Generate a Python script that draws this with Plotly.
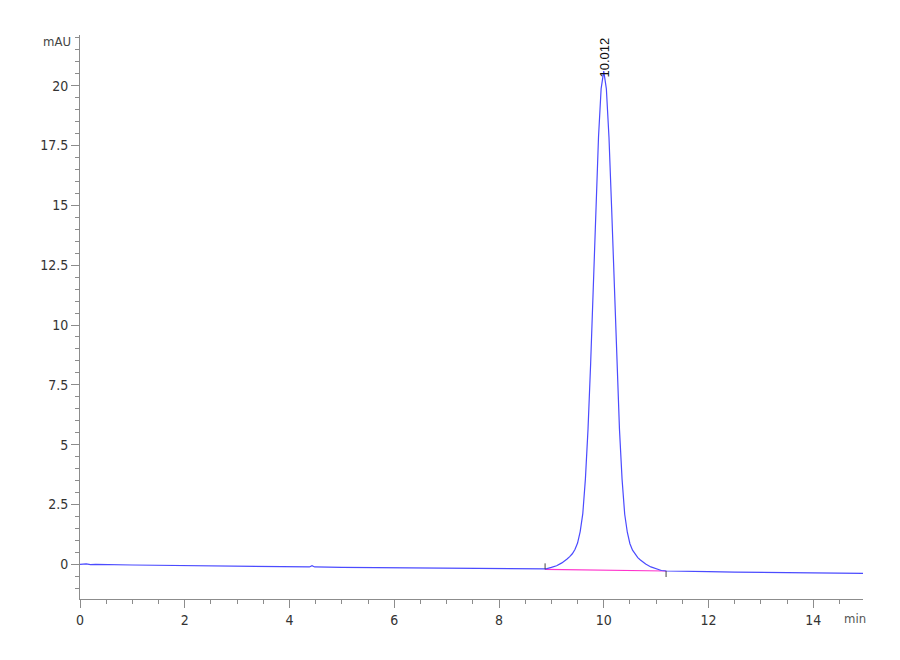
import plotly.graph_objects as go

# ---- data ----
time_min = [0.0, 0.12, 0.2, 0.3, 1.0, 2.0, 3.0, 4.0, 4.38, 4.43, 4.48, 5.0, 6.0, 7.0, 8.0, 8.5, 8.8,
            8.9, 9.0, 9.1, 9.2, 9.25, 9.3, 9.35, 9.4, 9.45, 9.5, 9.55, 9.6, 9.65, 9.7, 9.75, 9.8,
            9.85, 9.9, 9.95, 10.0, 10.05, 10.1, 10.15, 10.2, 10.25, 10.3, 10.35, 10.4, 10.45,
            10.5, 10.55, 10.6, 10.65, 10.7, 10.75, 10.8, 10.9, 11.0, 11.1, 11.2, 11.5, 12.0,
            12.5, 13.0, 13.5, 14.0, 14.5, 14.95]
signal_mau = [0.0, 0.02, -0.01, 0.0, -0.03, -0.06, -0.08, -0.10, -0.11, -0.06, -0.11, -0.13, -0.15,
              -0.17, -0.19, -0.20, -0.21,
              -0.19, -0.13, -0.06, 0.06, 0.13, 0.22, 0.32, 0.44, 0.62, 0.89, 1.37, 2.12, 3.57,
              5.66, 8.39, 11.60, 14.93, 17.86, 19.88, 20.61, 19.87, 17.85, 14.92, 11.59, 8.38,
              5.65, 3.55, 2.09, 1.34, 0.86, 0.59, 0.41, 0.28, 0.18, 0.08, 0.01, -0.11, -0.19,
              -0.26, -0.28, -0.30, -0.31, -0.33, -0.34, -0.35, -0.36, -0.37, -0.38]

peak_rt = 10.012
peak_height = 20.61
peak_label = "10.012"
baseline_time = [8.88, 11.19]
baseline_mau = [-0.21, -0.28]

x_ticks = [0, 2, 4, 6, 8, 10, 12, 14]
y_ticks = [0, 2.5, 5, 7.5, 10, 12.5, 15, 17.5, 20]

# ---- figure ----
FONT = "Liberation Sans Narrow, Arial Narrow, DejaVu Sans Condensed, Liberation Sans, Arial, sans-serif"
AXC = "#8c8c8c"
MARK = 0.25  # length of peak start/end markers, mAU

fig = go.Figure()
fig.add_trace(go.Scatter(x=baseline_time, y=baseline_mau, mode="lines",
                         line=dict(color="#ff33cc", width=1.2), hoverinfo="skip"))
fig.add_trace(go.Scatter(x=time_min, y=signal_mau, mode="lines",
                         line=dict(color="#4b4bff", width=1.2)))
# peak start (up) and end (down) markers
fig.add_trace(go.Scatter(x=[baseline_time[0], baseline_time[0]],
                         y=[baseline_mau[0], baseline_mau[0] + MARK], mode="lines",
                         line=dict(color="#444444", width=1)))
fig.add_trace(go.Scatter(x=[baseline_time[1], baseline_time[1]],
                         y=[baseline_mau[1], baseline_mau[1] - MARK], mode="lines",
                         line=dict(color="#444444", width=1)))

fig.add_annotation(x=peak_rt, y=peak_height, text=peak_label, textangle=-90,
                   showarrow=False, yanchor="bottom", xanchor="center", yshift=-8,
                   font=dict(family="Liberation Sans, Arial, sans-serif", size=13, color="#111111"))
fig.add_annotation(x=0.99, y=-0.034, xref="paper", yref="paper", text="min",
                   showarrow=False, xanchor="center", yanchor="middle",
                   font=dict(family=FONT, size=13, color="#555555"))
fig.add_annotation(x=-0.029, y=0.988, xref="paper", yref="paper", text="mAU",
                   showarrow=False, xanchor="center", yanchor="middle",
                   font=dict(family=FONT, size=13, color="#444444"))

fig.update_layout(
    width=900, height=660,
    margin=dict(l=72, r=45, t=27, b=69),
    paper_bgcolor="white", plot_bgcolor="white",
    showlegend=False,
    font=dict(family=FONT, size=14, color="#333333"),
)
fig.update_xaxes(range=[0, 14.95], tickvals=x_ticks, showgrid=False, zeroline=False,
                 showline=True, linecolor=AXC, linewidth=1,
                 ticks="outside", ticklen=8, tickcolor=AXC,
                 minor=dict(dtick=0.5, tick0=0, ticks="outside", ticklen=4, tickcolor=AXC, showgrid=False))
fig.update_yaxes(range=[-1.45, 22.12], tickvals=y_ticks, showgrid=False, zeroline=False,
                 showline=True, linecolor=AXC, linewidth=1,
                 ticks="outside", ticklen=8, tickcolor=AXC,
                 minor=dict(dtick=0.5, tick0=0, ticks="outside", ticklen=4, tickcolor=AXC, showgrid=False))

fig.write_html("out.html")
